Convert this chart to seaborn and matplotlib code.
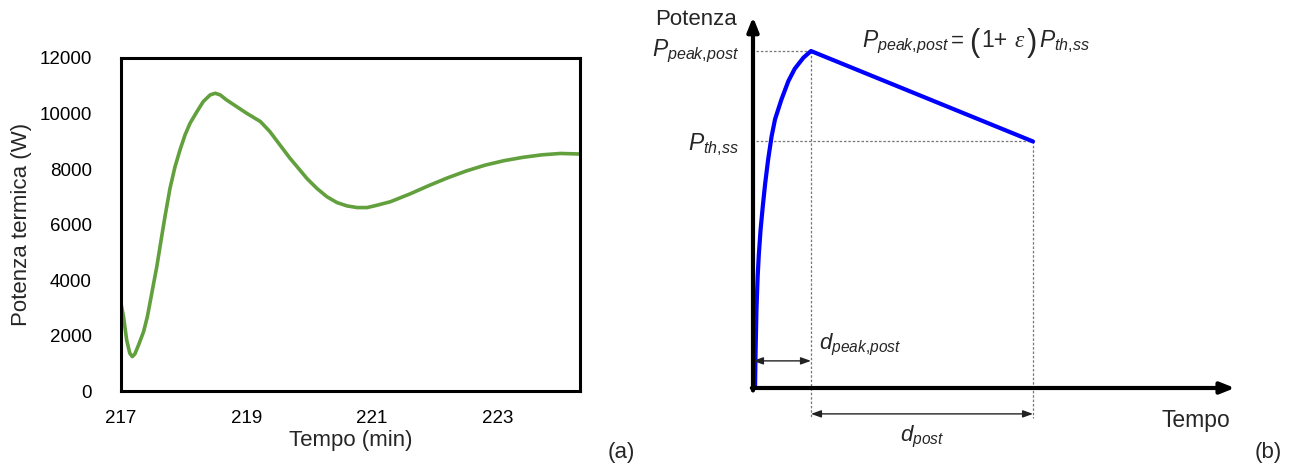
import matplotlib
matplotlib.use("Agg")
import matplotlib.pyplot as plt
import seaborn as sns
import pandas as pd

# ---- (a) measured thermal power after restart ----
tempo_min = [217.00, 217.04, 217.09, 217.14, 217.18, 217.22, 217.28, 217.36, 217.42,
             217.49, 217.57, 217.63, 217.70, 217.78, 217.86, 217.94, 218.02, 218.10,
             218.21, 218.31, 218.42, 218.50, 218.58, 218.68, 218.84, 219.00, 219.22,
             219.37, 219.53, 219.69, 219.85, 219.96, 220.12, 220.28, 220.44, 220.60,
             220.76, 220.92, 221.07, 221.29, 221.60, 221.90, 222.20, 222.50, 222.80,
             223.10, 223.40, 223.70, 224.00, 224.31]
potenza_w = [3150, 2680, 1840, 1360, 1240, 1330, 1660, 2140, 2680,
             3520, 4480, 5320, 6280, 7300, 8080, 8690, 9230, 9650,
             10070, 10430, 10670, 10730, 10670, 10490, 10250, 10010, 9710,
             9350, 8870, 8390, 7960, 7660, 7300, 7000, 6790, 6670,
             6610, 6610, 6690, 6820, 7100, 7400, 7680, 7930, 8140,
             8300, 8420, 8510, 8560, 8540]
x_ticks = [217, 219, 221, 223]
y_ticks = [0, 2000, 4000, 6000, 8000, 10000, 12000]

# ---- (b) schematic post-restart power profile (normalised units) ----
t_profile = [0.035, 0.045, 0.06, 0.08, 0.10, 0.13, 0.17, 0.21, 0.26, 0.32,
             0.38, 0.49, 0.61, 0.72, 0.87, 1.00, 4.83]
p_profile = [0.00, 0.15, 0.32, 0.45, 0.54, 0.64, 0.74, 0.83, 0.925, 1.02,
             1.09, 1.17, 1.245, 1.295, 1.34, 1.367, 1.00]
p_th_ss = 1.0
p_peak_post = 1.367
d_peak_post = 1.0
t_end = 4.83

sns.set_theme(style="white")
plt.rcParams["font.family"] = ["Liberation Sans", "DejaVu Sans"]
plt.rcParams["mathtext.fontset"] = "custom"
plt.rcParams["mathtext.rm"] = "Liberation Sans"
plt.rcParams["mathtext.it"] = "Liberation Sans:italic"
plt.rcParams["mathtext.bf"] = "Liberation Sans:bold"

W, H = 1295, 469
fig = plt.figure(figsize=(W / 100, H / 100), dpi=100)


def px_axes(x0, y0, x1, y1):
    return fig.add_axes([x0 / W, 1 - y1 / H, (x1 - x0) / W, (y1 - y0) / H])


def px_text(x, y, s, **kw):
    return fig.text(x / W, 1 - y / H, s, **kw)


# ---------------- panel (a) ----------------
ax1 = px_axes(121, 58, 580, 391)
df = pd.DataFrame({"Tempo": tempo_min, "Potenza": potenza_w})
sns.lineplot(data=df, x="Tempo", y="Potenza", ax=ax1, color="#62A03D", lw=2.6)
for ln in ax1.lines:
    ln.set_solid_joinstyle("round")
    ln.set_solid_capstyle("round")
ax1.set_xlim(217, 224.31)
ax1.set_ylim(0, 12000)
ax1.set_xticks(x_ticks)
ax1.set_yticks(y_ticks)
ax1.tick_params(axis="both", length=0, labelsize=13.5, colors="black")
ax1.tick_params(axis="y", pad=21)
ax1.tick_params(axis="x", pad=14)
for s in ax1.spines.values():
    s.set_visible(True)
    s.set_color("black")
    s.set_linewidth(2.2)
ax1.set_xlabel("Tempo (min)", fontsize=16)
ax1.set_ylabel("Potenza termica (W)", fontsize=16)
ax1.xaxis.set_label_coords(0.5, -0.116)
ax1.yaxis.set_label_coords(-0.194, 0.5)
px_text(621, 452, "(a)", fontsize=16, ha="center", va="center")

# ---------------- panel (b) ----------------
ax2 = px_axes(753, 13.3, 1240, 388)
ax2.set_xlim(0, 8.4)
ax2.set_ylim(0, 1.52)
ax2.axis("off")

# guide lines
guide = dict(color="#777777", lw=0.9, ls=(0, (2, 1.5)), clip_on=False, zorder=1)
ax2.plot([0.05, d_peak_post], [p_peak_post, p_peak_post], **guide)
ax2.plot([0.05, t_end], [p_th_ss, p_th_ss], **guide)
ax2.plot([d_peak_post, d_peak_post], [p_peak_post, -0.12], **guide)
ax2.plot([t_end, t_end], [p_th_ss, -0.12], **guide)

# power profile
sns.lineplot(x=t_profile, y=p_profile, ax=ax2, color="#0000FF", lw=3.0,
             sort=False, zorder=3)
for ln in ax2.lines:
    ln.set_clip_on(False)
    ln.set_solid_joinstyle("round")

# axes arrows
axis_arrow = dict(arrowstyle="-|>,head_length=0.7,head_width=0.28",
                  color="black", lw=3.0, shrinkA=0, shrinkB=0)
ax2.annotate("", xy=(8.31, 0), xytext=(-0.02, 0), arrowprops=axis_arrow,
             annotation_clip=False, zorder=4)
ax2.annotate("", xy=(0, 1.505), xytext=(0, -0.01), arrowprops=axis_arrow,
             annotation_clip=False, zorder=4)

# duration arrows
dim_arrow = dict(arrowstyle="<|-|>,head_length=0.5,head_width=0.18",
                 color="#222222", lw=1.0, shrinkA=0, shrinkB=0)
ax2.annotate("", xy=(d_peak_post, 0.11), xytext=(0.0, 0.11),
             arrowprops=dim_arrow, annotation_clip=False)
ax2.annotate("", xy=(t_end, -0.105), xytext=(d_peak_post, -0.105),
             arrowprops=dim_arrow, annotation_clip=False)

# labels
ax2.text(-0.28, 1.493, "Potenza", fontsize=16, ha="right", va="center")
ax2.text(-0.24, p_peak_post, r"$P_{peak{,}post}$", fontsize=16.5, ha="right",
         va="center")
ax2.text(-0.24, p_th_ss - 0.012, r"$P_{th{,}ss}$", fontsize=16.5, ha="right",
         va="center")
ax2.text(1.14, 0.175, r"$d_{peak{,}post}$", fontsize=16, ha="left", va="center")
ax2.text(2.91, -0.2, r"$d_{post}$", fontsize=16, ha="center", va="center")
ax2.text(8.24, -0.13, "Tempo", fontsize=16.5, ha="right", va="center")

# peak relation written next to the decay segment
eq_base = 47
px_text(862, eq_base, r"$P_{peak{,}post}$", fontsize=16.5, va="baseline")
px_text(951, eq_base, "=", fontsize=16, va="baseline")
px_text(969, eq_base + 4, "(", fontsize=22, va="baseline")
px_text(981, eq_base, "1+", fontsize=16.5, va="baseline")
px_text(1014, eq_base, "ε", fontsize=17, va="baseline",
        family=["Liberation Serif", "DejaVu Serif"], style="italic")
px_text(1027, eq_base + 4, ")", fontsize=22, va="baseline")
px_text(1039, eq_base, r"$P_{th{,}ss}$", fontsize=16.5, va="baseline")

px_text(1268, 452, "(b)", fontsize=16, ha="center", va="center")

fig.savefig("out.png", dpi=100)
